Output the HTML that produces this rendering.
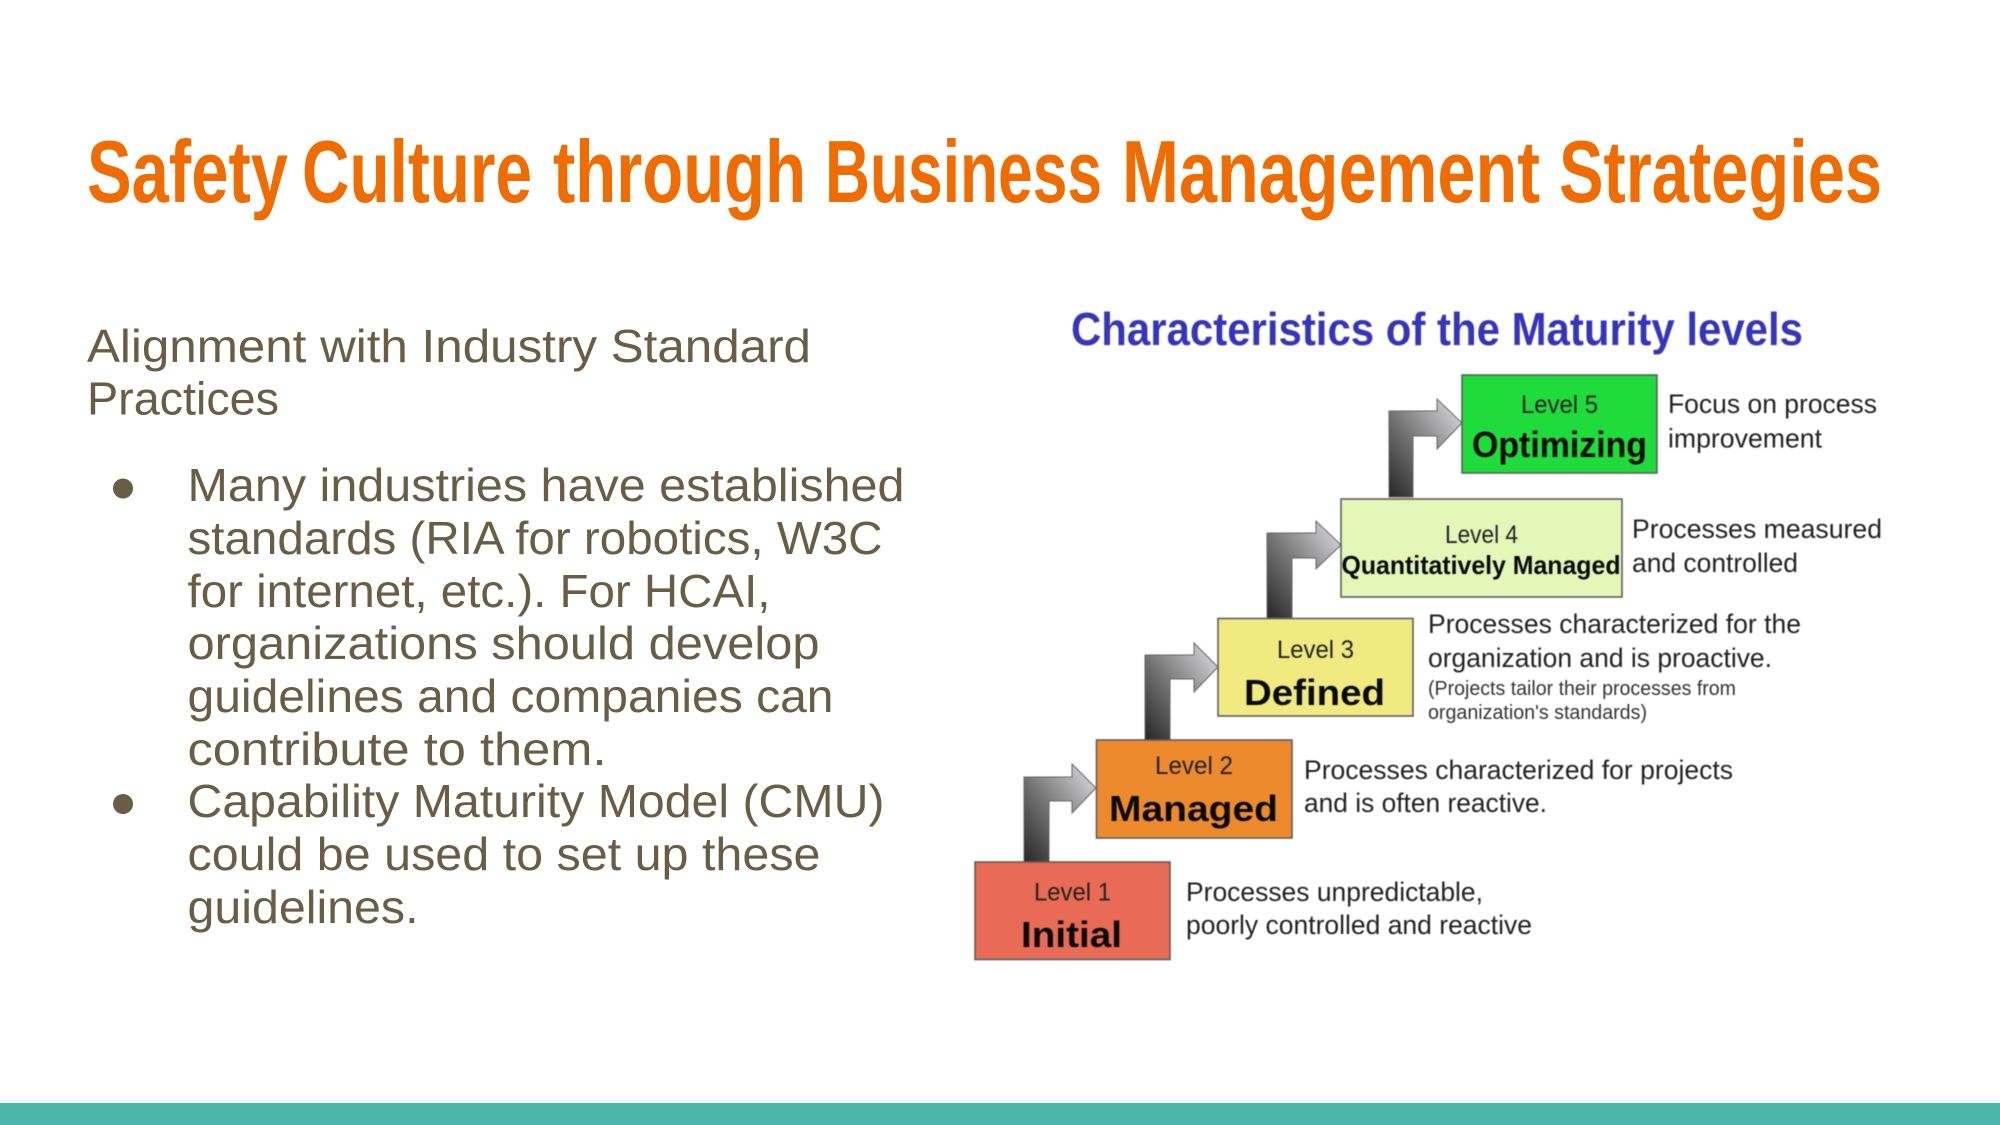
<!DOCTYPE html>
<html lang="en">
<head>
<meta charset="utf-8">
<title>Safety Culture through Business Management Strategies</title>
<style>
html,body{margin:0;padding:0;background:#fff;width:2000px;height:1125px;overflow:hidden}
svg{display:block}
.body-text{font-family:"Liberation Sans",sans-serif;font-size:46px;fill:#695d46}
.heading{font-family:"Liberation Sans Narrow","Liberation Sans",sans-serif;font-weight:700;font-size:88px;fill:#ef6c00}
.fig{filter:blur(0.6px)}
.fig text{font-family:"Liberation Sans",sans-serif}
.lvl{font-size:25px;fill:#222}
.nm{font-weight:700;font-size:36px;fill:#0a0a0a}
.desc{font-size:26.5px;fill:#222}
.small{font-size:20px;fill:#333}
.box{stroke:#5e5e5e;stroke-width:1.6}
.arrow{fill:url(#arrow-gradient);stroke:#666;stroke-width:1}
</style>
</head>
<body>
<svg xmlns="http://www.w3.org/2000/svg" width="2000" height="1125" viewBox="0 0 2000 1125">
<defs>
<linearGradient id="arrow-gradient" x1="0" y1="1" x2="1" y2="0">
<stop offset="0" stop-color="#262626"/>
<stop offset="0.45" stop-color="#757575"/>
<stop offset="1" stop-color="#e4e4e8"/>
</linearGradient>
</defs>
<rect x="0" y="0" width="2000" height="1125" fill="#fff"/>
<rect x="0" y="1103" width="2000" height="22" fill="#4db6ac"/>

<text class="heading" y="202"><tspan x="87" textLength="201" lengthAdjust="spacingAndGlyphs">Safety</tspan> <tspan x="302" textLength="230" lengthAdjust="spacingAndGlyphs">Culture</tspan> <tspan x="553" textLength="253" lengthAdjust="spacingAndGlyphs">through</tspan> <tspan x="825" textLength="277" lengthAdjust="spacingAndGlyphs">Business</tspan> <tspan x="1122" textLength="418" lengthAdjust="spacingAndGlyphs">Management</tspan> <tspan x="1559" textLength="323" lengthAdjust="spacingAndGlyphs">Strategies</tspan></text>

<g>
<text class="body-text" x="87" y="362" textLength="724" lengthAdjust="spacingAndGlyphs">Alignment with Industry Standard</text>
<text class="body-text" x="87" y="414.5" textLength="192" lengthAdjust="spacingAndGlyphs">Practices</text>
<circle cx="123" cy="488.5" r="10" fill="#695d46"/>
<text class="body-text" x="187.5" y="501" textLength="717" lengthAdjust="spacingAndGlyphs">Many industries have established</text>
<text class="body-text" x="187.5" y="554" textLength="695" lengthAdjust="spacingAndGlyphs">standards (RIA for robotics, W3C</text>
<text class="body-text" x="187.5" y="607" textLength="583" lengthAdjust="spacingAndGlyphs">for internet, etc.). For HCAI,</text>
<text class="body-text" x="187.5" y="659" textLength="632" lengthAdjust="spacingAndGlyphs">organizations should develop</text>
<text class="body-text" x="187.5" y="712" textLength="646" lengthAdjust="spacingAndGlyphs">guidelines and companies can</text>
<text class="body-text" x="187.5" y="765" textLength="419" lengthAdjust="spacingAndGlyphs">contribute to them.</text>
<circle cx="123" cy="804" r="10" fill="#695d46"/>
<text class="body-text" x="187.5" y="817" textLength="697" lengthAdjust="spacingAndGlyphs">Capability Maturity Model (CMU)</text>
<text class="body-text" x="187.5" y="870" textLength="633" lengthAdjust="spacingAndGlyphs">could be used to set up these</text>
<text class="body-text" x="187.5" y="923" textLength="231" lengthAdjust="spacingAndGlyphs">guidelines.</text>
</g>

<g class="fig">
<text x="1071" y="345" font-size="46" font-weight="700" fill="#3535bb" textLength="732" lengthAdjust="spacingAndGlyphs">Characteristics of the Maturity levels</text>

<polygon class="arrow" points="1389,497 1389,411 1437,411 1437,399 1462,423 1437,449 1437,436 1413,436 1413,497"/>
<polygon class="arrow" points="1267,618 1267,533 1316,533 1316,521 1341,545 1316,569 1316,558 1292,558 1292,618"/>
<polygon class="arrow" points="1145,740 1145,655 1194,655 1194,643 1218,667 1194,692 1194,679 1170,679 1170,740"/>
<polygon class="arrow" points="1024,862 1024,777 1072,777 1072,764 1096,788 1072,813 1072,801 1049,801 1049,862"/>

<g>
<rect class="box" x="1462" y="375" width="195" height="98" fill="#1fdc3c"/>
<text class="lvl" x="1521" y="413" textLength="77" lengthAdjust="spacingAndGlyphs">Level 5</text>
<text class="nm" x="1472" y="457" textLength="175" lengthAdjust="spacingAndGlyphs">Optimizing</text>
<text class="desc" x="1668" y="413" textLength="209" lengthAdjust="spacingAndGlyphs">Focus on process</text>
<text class="desc" x="1668" y="447.5" textLength="154" lengthAdjust="spacingAndGlyphs">improvement</text>
</g>

<g>
<rect class="box" x="1341" y="499" width="281" height="98" fill="#e3f7b8"/>
<text class="lvl" x="1445" y="543" textLength="73" lengthAdjust="spacingAndGlyphs">Level 4</text>
<text class="nm" x="1341.5" y="574" style="font-size:26px" textLength="279" lengthAdjust="spacingAndGlyphs">Quantitatively Managed</text>
<text class="desc" x="1632" y="538" textLength="250" lengthAdjust="spacingAndGlyphs">Processes measured</text>
<text class="desc" x="1632" y="572" textLength="166" lengthAdjust="spacingAndGlyphs">and controlled</text>
</g>

<g>
<rect class="box" x="1218" y="618.5" width="195" height="97.5" fill="#f1ea80"/>
<text class="lvl" x="1277" y="658" textLength="77" lengthAdjust="spacingAndGlyphs">Level 3</text>
<text class="nm" x="1244" y="705" textLength="141" lengthAdjust="spacingAndGlyphs">Defined</text>
<text class="desc" x="1428" y="633" textLength="373" lengthAdjust="spacingAndGlyphs">Processes characterized for the</text>
<text class="desc" x="1428" y="667" textLength="344" lengthAdjust="spacingAndGlyphs">organization and is proactive.</text>
<text class="small" x="1428" y="695" textLength="308" lengthAdjust="spacingAndGlyphs">(Projects tailor their processes from</text>
<text class="small" x="1428" y="719" textLength="219" lengthAdjust="spacingAndGlyphs">organization's standards)</text>
</g>

<g>
<rect class="box" x="1096.5" y="740" width="195.5" height="98" fill="#ee8a2e"/>
<text class="lvl" x="1155" y="774" textLength="78" lengthAdjust="spacingAndGlyphs">Level 2</text>
<text class="nm" x="1109" y="821" textLength="169" lengthAdjust="spacingAndGlyphs">Managed</text>
<text class="desc" x="1304" y="779" textLength="429" lengthAdjust="spacingAndGlyphs">Processes characterized for projects</text>
<text class="desc" x="1304" y="812" textLength="243" lengthAdjust="spacingAndGlyphs">and is often reactive.</text>
</g>

<g>
<rect class="box" x="975" y="862" width="195" height="97.5" fill="#e96a55"/>
<text class="lvl" x="1034" y="900.5" textLength="77" lengthAdjust="spacingAndGlyphs">Level 1</text>
<text class="nm" x="1021" y="947" textLength="101" lengthAdjust="spacingAndGlyphs">Initial</text>
<text class="desc" x="1186" y="901" textLength="297" lengthAdjust="spacingAndGlyphs">Processes unpredictable,</text>
<text class="desc" x="1186" y="934" textLength="346" lengthAdjust="spacingAndGlyphs">poorly controlled and reactive</text>
</g>
</g>
</svg>
</body>
</html>
